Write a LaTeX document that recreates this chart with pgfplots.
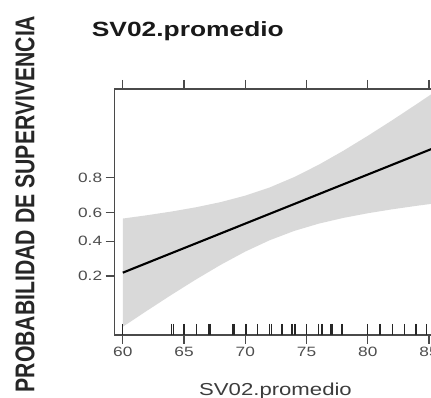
\documentclass[border=0pt]{standalone}
\usepackage{fontspec}
\setmainfont{Liberation Sans}
\usepackage{graphicx}
\usepackage{pgfplots}
\pgfplotsset{compat=1.18}
\definecolor{bandgray}{HTML}{D9D9D9}
\definecolor{axisgray}{HTML}{4A4A4A}
\definecolor{ticklab}{HTML}{4D4D4D}
\definecolor{labgray}{HTML}{3C3C3C}
\definecolor{ylab}{HTML}{262626}
\newcommand{\hs}[1]{\scalebox{1.28}[1]{#1}}
\begin{document}
\begin{tikzpicture}
\useasboundingbox (-114.7pt,-63pt) rectangle (316.3pt,335pt);
\clip (-114.7pt,-63pt) rectangle (316.3pt,335pt);
\begin{axis}[
  at={(0pt,0pt)}, anchor=south west,
  scale only axis, width=340pt, height=246pt,
  xmin=59.34, xmax=87.095, ymin=0.0452, ymax=0.9798,
  y coord trafo/.code={\pgfmathparse{ln(#1/(1-#1))}},
  y coord inv trafo/.code={\pgfmathparse{1/(1+exp(-#1))}},
  xtick={60,65,70,75,80,85},
  xticklabels={\hs{60},\hs{65},\hs{70},\hs{75},\hs{80},\hs{85}},
  xtick pos=both,
  ytick={0.2,0.4,0.6,0.8},
  yticklabels={\hs{0.2},\hs{0.4},\hs{0.6},\hs{0.8}},
  ytick pos=left,
  tick align=outside, major tick length=9pt,
  axis line style={draw=axisgray, line width=1.4pt},
  every tick/.style={draw=axisgray, line width=1.3pt},
  ticklabel style={font=\fontsize{13.5}{16}\selectfont, text=ticklab},
  title={\hs{SV02.promedio}},
  title style={at={(axis description cs:-0.06765,1.18699)}, anchor=base west, inner sep=0pt,
    font=\bfseries\fontsize{20.6}{24}\selectfont, text=black!90},
  xlabel={\hs{SV02.promedio}},
  xlabel style={at={(axis description cs:0.47294,-0.2440)}, anchor=base, inner sep=0pt,
    font=\fontsize{17.3}{20}\selectfont, text=labgray},
  ylabel={\scalebox{1}[1.28]{PROBABILIDAD DE SUPERVIVENCIA}},
  ylabel style={at={(axis description cs:-0.2638,0.5325)}, anchor=center, inner sep=0pt,
    font=\bfseries\fontsize{21.2}{24}\selectfont, text=ylab},
]
% confidence band (upper edge left to right, lower edge right to left)
\addplot[fill=bandgray, draw=none] coordinates {
  (60,0.5577) (62,0.5809) (64,0.6061) (66,0.6345) (68,0.6673) (70,0.7063)
  (72,0.7520) (74,0.8024) (76,0.8518) (78,0.8948) (80,0.9284) (82,0.9527)
  (84,0.9695) (86,0.9806)
  (86,0.6642) (84,0.6437) (82,0.6208) (80,0.5941) (78,0.5621) (76,0.5222)
  (74,0.4710) (72,0.4067) (70,0.3321) (68,0.2553) (66,0.1856) (64,0.1289)
  (62,0.0863) (60,0.0564)
} --cycle;
% fitted probability
\addplot[black, line width=2.1pt] coordinates {(60,0.2154) (86,0.9090)};
% rug of observed values
\addplot[only marks, mark=|, mark size=5.5pt, mark options={line width=1.4pt, draw=black!85}] coordinates {
  (60,0.0525) (64,0.0525) (64.12,0.0525) (65,0.0525) (66,0.0525) (67,0.0525) (67.12,0.0525)
  (69,0.0525) (69.12,0.0525) (70,0.0525) (70.12,0.0525) (71,0.0525) (72,0.0525) (72.12,0.0525)
  (73,0.0525) (73.8,0.0525) (74,0.0525) (74.12,0.0525) (75,0.0525) (76,0.0525) (76.25,0.0525)
  (77,0.0525) (77.12,0.0525) (77.9,0.0525) (80,0.0525) (81,0.0525) (82,0.0525) (83,0.0525)
  (83.9,0.0525) (84,0.0525) (84.8,0.0525)
};
\end{axis}
\end{tikzpicture}
\end{document}
